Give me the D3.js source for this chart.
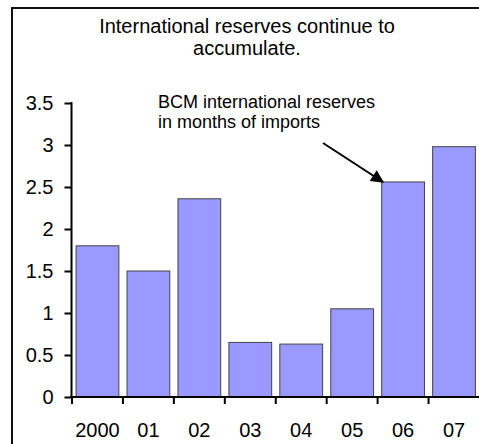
<!DOCTYPE html>
<html><head><meta charset="utf-8">
<script src="https://cdn.jsdelivr.net/npm/d3@7"></script>
<style>
body{margin:0;background:#fff;}
text{font-family:"Liberation Sans",Arial,sans-serif;fill:#000;}
</style></head>
<body><svg id="c" width="479" height="444"></svg>
<script>
const categories = ["2000","01","02","03","04","05","06","07"];
const reserves = [1.80, 1.50, 2.36, 0.65, 0.63, 1.05, 2.56, 2.98];
const yTicks = [0, 0.5, 1, 1.5, 2, 2.5, 3, 3.5];
const titleLines = ["International reserves continue to", "accumulate."];
const noteLines = ["BCM international reserves", "in months of imports"];

const svg = d3.select("#c");

// frame
svg.append("path").attr("d","M12,444 V8 H479").attr("fill","none").attr("stroke","#111").attr("stroke-width",2);

const x = d3.scaleBand().domain(categories).range([71.5, 480]).paddingInner(0.16).paddingOuter(0.09);
const y = d3.scaleLinear().domain([0, 3.5]).range([397, 103]);

// bars
svg.selectAll("rect.bar").data(reserves).join("rect")
  .attr("class","bar")
  .attr("x",(d,i)=>x(categories[i]))
  .attr("width",x.bandwidth())
  .attr("y",d=>y(d))
  .attr("height",d=>y(0)-y(d))
  .attr("fill","#9999ff").attr("stroke","#444").attr("stroke-width",1);

// y axis
const ya = svg.append("g").attr("transform","translate(71.5,0)")
  .call(d3.axisLeft(y).tickValues(yTicks).tickSize(7).tickPadding(11).tickFormat(d=>String(d)));
ya.select(".domain").remove();
ya.selectAll(".tick line").attr("stroke","#000").attr("stroke-width",2);
ya.selectAll(".tick text").attr("font-size",20).attr("font-family","Liberation Sans, Arial, sans-serif").attr("fill","#000");
svg.append("line").attr("x1",71.5).attr("x2",71.5).attr("y1",102).attr("y2",398).attr("stroke","#000").attr("stroke-width",2);

// x axis
const step = x.step();
const xg = svg.append("g");
categories.forEach((c,i)=>{
  const bx = x(c) - step*x.paddingInner()/2;
  xg.append("line").attr("x1",bx).attr("x2",bx).attr("y1",397).attr("y2",404).attr("stroke","#000").attr("stroke-width",2);
  xg.append("text").attr("x",x(c)+x.bandwidth()/2).attr("y",437).attr("text-anchor","middle").attr("font-size",20).text(c);
});
svg.append("line").attr("x1",70).attr("x2",479).attr("y1",397).attr("y2",397).attr("stroke","#000").attr("stroke-width",2);

// title
titleLines.forEach((t,i)=> svg.append("text").attr("x",247).attr("y",33 + i*22)
  .attr("text-anchor","middle").attr("font-size",20).text(t));
// annotation
noteLines.forEach((t,i)=> svg.append("text").attr("x",158).attr("y",108 + i*20)
  .attr("font-size",18).text(t));

// arrow
const defs = svg.append("defs");
defs.append("marker").attr("id","ah").attr("viewBox","0 0 10 10").attr("refX",9).attr("refY",5)
  .attr("markerUnits","userSpaceOnUse").attr("markerWidth",16).attr("markerHeight",13).attr("orient","auto")
  .append("path").attr("d","M0,0 L10,5 L0,10 Z").attr("fill","#000");
svg.append("line").attr("x1",323).attr("y1",143).attr("x2",383).attr("y2",182)
  .attr("stroke","#000").attr("stroke-width",2).attr("marker-end","url(#ah)");
</script></body></html>
